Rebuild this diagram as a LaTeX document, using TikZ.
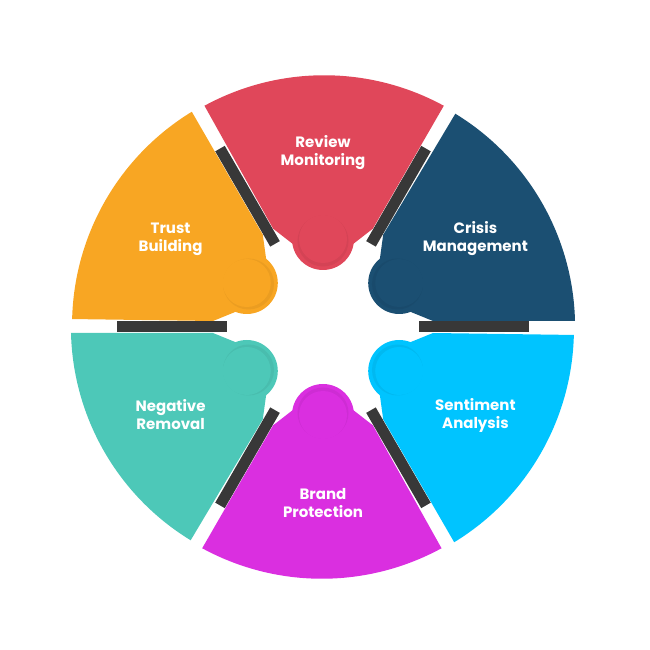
\documentclass[tikz,border=0pt]{standalone}
\usepackage{fontspec}
\setmainfont{Poppins}
\usetikzlibrary{calc}
\begin{document}
\begin{tikzpicture}[x=1pt,y=1pt,
  lbl/.style={text=white,font=\bfseries\fontsize{15}{18}\selectfont,align=center},
  bar/.style={line width=11pt,draw=black!78}]
\useasboundingbox (-323,-323) rectangle (327,327);
\definecolor{cR}{HTML}{E0475A}\definecolor{cC}{HTML}{1B4F72}
\definecolor{cS}{HTML}{00C4FF}\definecolor{cB}{HTML}{DA2FE0}
\definecolor{cN}{HTML}{4DC8B8}\definecolor{cT}{HTML}{F8A623}
\coordinate (c) at (0,0);
\foreach \a in {0,60,...,300}{\draw[bar] (\a:96) -- (\a:206);}
\foreach \a/\col in {90/cR,30/cC,-30/cS,-90/cB,-150/cN,150/cT}{
  \fill[\col] ($(\a-30:252)+(\a+60:6)$) arc[start angle=\a-28.6,end angle=\a+28.6,radius=250]
     -- ($(\a+30:110)+(\a-60:6)$) -- (\a+19:86) -- (\a-19:86)
     -- ($(\a-30:110)+(\a+60:6)$) -- cycle;
  \fill[\col] (\a:88) circle (31);
  \fill[\col!85!black,opacity=0.35] (\a:86) circle (25.5);
  \fill[\col] (\a:88) circle (24);
}
\node[lbl] (r) at (90:174) {Review\\Monitoring};
\node[lbl] (cm) at (30:176) {Crisis\\Management};
\node[lbl] (s) at (-30:176) {Sentiment\\Analysis};
\node[lbl] (b) at (-90:176) {Brand\\Protection};
\node[lbl] (n) at (-150:176) {Negative\\Removal};
\node[lbl] (t) at (150:176) {Trust\\Building};
\end{tikzpicture}
\end{document}
